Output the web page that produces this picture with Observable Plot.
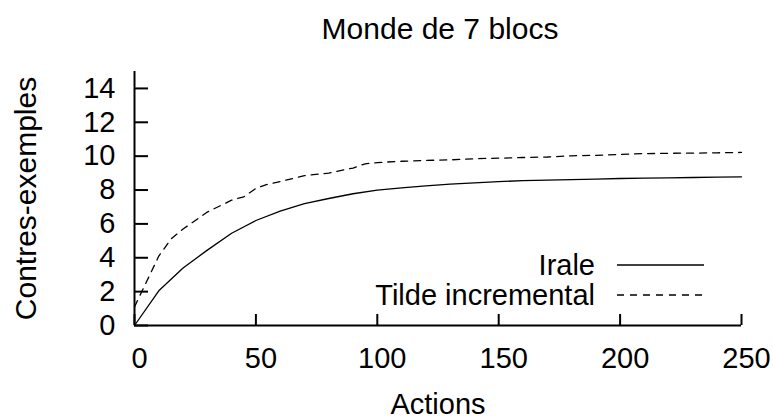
<!DOCTYPE html>
<html>
<head>
<meta charset="utf-8">
<script src="https://cdn.jsdelivr.net/npm/d3@7"></script>
<script src="https://cdn.jsdelivr.net/npm/@observablehq/plot@0.6"></script>
<style>
  html, body { margin: 0; padding: 0; background: white; }
  #chart { width: 773px; height: 418px; }
</style>
</head>
<body>
<div id="chart"></div>
<script>
const title = "Monde de 7 blocs";
const xLabel = "Actions";
const yLabel = "Contres-exemples";
const seriesNames = ["Irale", "Tilde incremental"];

const xTicks = [0, 50, 100, 150, 200, 250];
const yTicks = [0, 2, 4, 6, 8, 10, 12, 14];

const iraleActions = [0, 10, 20, 30, 40, 50, 60, 70, 80, 90, 100, 110, 120, 130, 140, 150, 160, 170, 180, 190, 200, 210, 220, 230, 240, 250];
const iraleValues  = [0, 2.05, 3.4, 4.45, 5.45, 6.2, 6.75, 7.2, 7.5, 7.78, 8.0, 8.13, 8.25, 8.35, 8.42, 8.5, 8.55, 8.58, 8.62, 8.65, 8.68, 8.7, 8.72, 8.74, 8.76, 8.78];

const tildeActions = [0, 5, 10, 15, 20, 30, 40, 45, 50, 55, 60, 70, 80, 90, 95, 100, 110, 120, 130, 140, 150, 160, 170, 180, 190, 200, 210, 220, 230, 240, 250];
const tildeValues  = [1.1, 2.6, 4.1, 5.1, 5.7, 6.7, 7.4, 7.6, 8.1, 8.35, 8.5, 8.85, 9.0, 9.3, 9.55, 9.62, 9.7, 9.75, 9.78, 9.85, 9.88, 9.92, 9.95, 10.02, 10.05, 10.1, 10.15, 10.17, 10.18, 10.2, 10.22];

const irale = iraleActions.map((a, i) => ({a, v: iraleValues[i]}));
const tilde = tildeActions.map((a, i) => ({a, v: tildeValues[i]}));

const font = "'Liberation Sans', Arial, Helvetica, sans-serif";
const dash = "7,6";

const W = 773, H = 418, mL = 134, mR = 32, mT = 71, mB = 93;
const frameW = W - mL - mR, frameH = H - mT - mB;

const chart = Plot.plot({
  width: W,
  height: H,
  marginLeft: mL,
  marginRight: mR,
  marginTop: mT,
  marginBottom: mB,
  x: {domain: [0, 250]},
  y: {domain: [0, 15]},
  style: {fontFamily: font, color: "black", background: "white", overflow: "visible"},
  marks: [
    Plot.axisY(yTicks, {tickSize: 0, tickPadding: 19, fontSize: 29, label: null}),
    Plot.axisX(xTicks, {tickSize: 0, tickPadding: 22, fontSize: 29, dx: 5, label: null}),
    // inward ticks
    Plot.tickY(yTicks, {y: d => d, stroke: "black", strokeWidth: 2, insetRight: frameW - 14}),
    Plot.tickX(xTicks, {x: d => d, stroke: "black", strokeWidth: 2, insetTop: frameH - 11}),
    Plot.ruleX([0], {strokeWidth: 2}),
    Plot.ruleY([0], {strokeWidth: 2}),
    Plot.line(irale, {x: "a", y: "v", stroke: "black", strokeWidth: 1.3}),
    Plot.line(tilde, {x: "a", y: "v", stroke: "black", strokeWidth: 1.3, strokeDasharray: dash}),
    Plot.text([title], {frameAnchor: "top", lineAnchor: "bottom", dy: -33, dx: 2, fontSize: 30}),
    Plot.text([xLabel], {frameAnchor: "bottom", lineAnchor: "bottom", dy: 88, fontSize: 29}),
    Plot.text([yLabel], {frameAnchor: "left", textAnchor: "middle", lineAnchor: "bottom", rotate: -90, dx: -99, dy: 0, fontSize: 30})
  ]
});

// Legend (inside the plot, lower right)
const svg = d3.select(chart);
const leg = svg.append("g").attr("font-family", font).attr("font-size", 29).attr("fill", "black");
const rows = [{name: seriesNames[0], dash: null, y: 265}, {name: seriesNames[1], dash: dash, y: 295}];
rows.forEach(r => {
  leg.append("text").attr("x", 595).attr("y", r.y + 10).attr("text-anchor", "end").text(r.name);
  leg.append("line").attr("x1", 617).attr("x2", 704).attr("y1", r.y).attr("y2", r.y)
    .attr("stroke", "black").attr("stroke-width", 1.3).attr("stroke-dasharray", r.dash);
});

document.getElementById("chart").appendChild(chart);
</script>
</body>
</html>
